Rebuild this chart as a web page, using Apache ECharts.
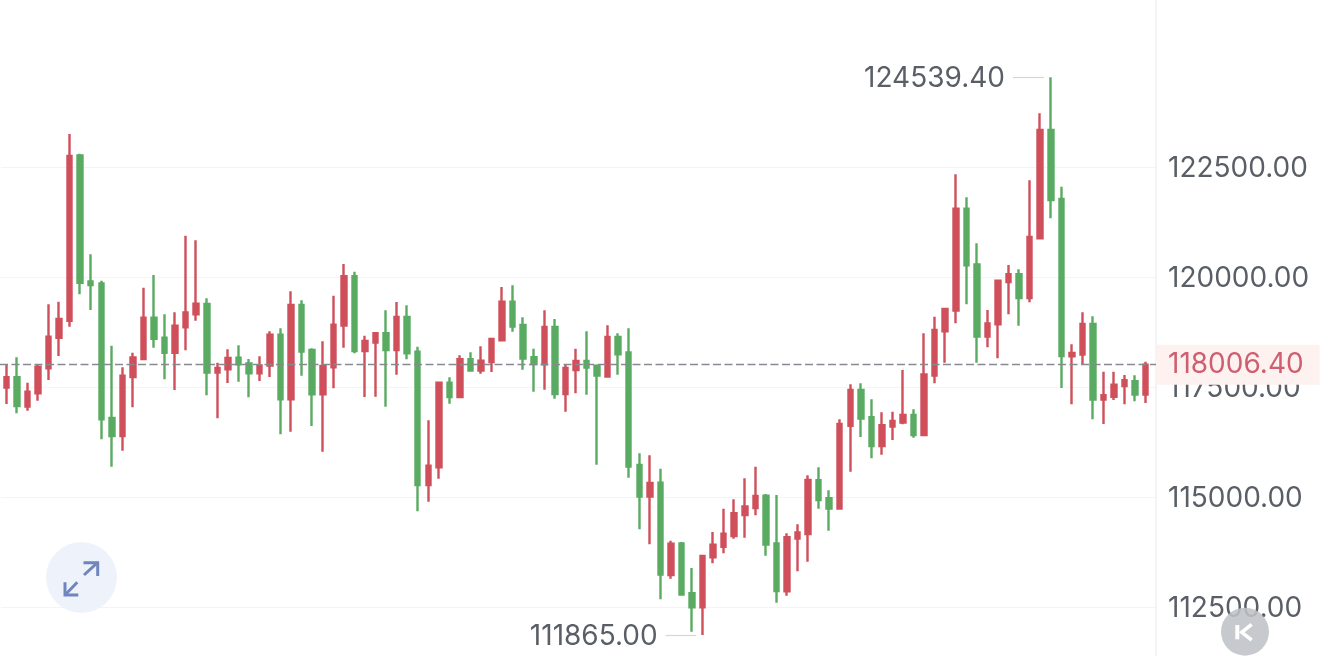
<!DOCTYPE html>
<html><head><meta charset="utf-8">
<style>html,body{margin:0;padding:0;background:#fff}#c{width:1320px;height:656px}</style>
<script src="https://cdn.jsdelivr.net/npm/echarts@6/dist/echarts.min.js"></script>
</head><body><div id="c"></div>
<script>
const opens=[117485,117720,117053,117356,117924,118621,119007,122765,119901,119856,116795,116386,117727,118136,119076,118621,118280,118856,119151,119386,117826,117901,118166,118038,117810,117985,118689,117219,
119364,118341,117334,117947,118894,120016,118319,118508,118720,118341,119091,118303,115273,115675,117599,117273,118129,117872,118069,118561,119440,118909,118175,118016,118864,117341,117887,118091,117970,117735,118637,118288,
115728,115008,115326,113228,113947,112811,112493,113629,113871,114114,114591,114750,115031,113947,112856,114053,114159,115379,114970,114735,116621,117432,116811,116159,116599,116690,116864,116409,
117758,118765,119235,121553,120288,118644,118924,119887,120061,119523,120879,123341,121773,118197,118235,118932,117212,117280,117523,117629,117326];
const closes=[117720,117068,117394,117962,118644,119045,122750,119871,119818,116765,116386,117757,118174,119076,118598,118280,118894,119197,119394,117826,117932,118159,118015,117810,117992,118689,117219,119363,
118303,117334,117978,118917,120016,118319,118546,118720,118341,119091,118266,115273,115712,117599,117273,118129,117872,118099,118591,119440,118872,118144,118023,118864,117341,117932,118091,117940,117758,118637,118243,115690,
115008,115318,113235,113940,112781,112493,113659,113917,114167,114629,114788,115023,113917,112864,114084,114197,115387,114932,114735,116659,117432,116781,116159,116629,116728,116864,116409,117788,
118796,119273,121553,120265,118644,118947,119917,120061,119523,120909,123341,121750,118205,118273,118932,117212,117311,117553,117652,117326,118006.4];
const lows=[117114,116901,116962,117189,117659,118204,118871,119606,119250,116310,115689,116053,117038,118129,118394,117674,117432,118333,119007,117310,116788,117591,117621,117265,117636,117727,116424,116485,
117758,116614,116031,117470,118394,118266,117273,117281,117053,117781,118129,114675,114894,115417,117122,117273,117856,117803,117841,118561,118758,117894,117394,117440,117235,116940,117356,117326,115735,117728,117781,115440,
114265,113924,112674,113144,112765,111940,111865,113493,113720,114053,114076,114584,113667,112599,112758,113311,113531,114735,114235,114735,115576,116364,115879,115962,116296,116652,116349,116409,
117583,118053,118947,119379,118053,118402,118152,119152,118894,119424,120879,121334,117477,117106,118000,116765,116659,117205,117106,117174,117137];
const highs=[118015,118174,117598,118015,119379,119439,123250,122800,120515,119916,118439,117947,118280,119757,120045,119151,119197,120939,120833,119515,118053,118356,118447,118136,118197,118765,118833,119674,
119470,118379,118538,119576,120296,120122,118667,118720,119243,119432,119356,118417,116743,117599,117720,118220,118288,118425,118591,119773,119811,119084,118372,119243,119046,118008,118372,118766,118016,118902,118720,118834,
115993,115947,115644,114008,113978,113387,113675,114205,114735,114947,115424,115690,115068,115046,114175,114379,115493,115675,115152,116765,117561,117584,117220,116925,116940,117887,116993,118720,
119099,119273,122334,121811,120765,119250,119917,120273,120174,122197,123720,124539.4,122053,118470,119197,119106,117849,117849,117773,117765,118076];
const categories=opens.map((_,i)=>String(i+1)).concat(['']);
const tickValues=[112500,115000,117500,120000,122500];
const lastPrice=118006.4;
const highLabel='124539.40', lowLabel='111865.00';
const highPrice=124539.4, lowPrice=111865;
const highIndex=highs.indexOf(highPrice), lowIndex=lows.indexOf(lowPrice);
const yMin=110000, yMax=127500, yStep=2500;

const FONT='Inter';
const RED='#cf4f5b', GREEN='#5aab62', TEXT='#5a5f67';
const candles=opens.map((o,i)=>[o,closes[i],lows[i],highs[i]]);
const chart=echarts.init(document.getElementById('c'),null,{renderer:'canvas'});
const extLabel={show:true,position:'start',distance:8,fontFamily:FONT,fontSize:28,color:TEXT,verticalAlign:'top',lineHeight:28,padding:[-12.5,0,0,0]};
const extLine={color:'#d4d6d9',width:1.2,type:'solid'};
chart.setOption({
  animation:false,
  backgroundColor:'#fff',
  grid:{outerBoundsMode:'none',left:1.025,top:-53,width:1160.5,height:770},
  xAxis:[
    {type:'category',data:categories,boundaryGap:true,show:false},
    {type:'value',min:-0.5,max:categories.length-0.5,show:false}
  ],
  yAxis:{type:'value',position:'right',min:yMin,max:yMax,interval:yStep,offset:-5.5,scale:false,
    axisLine:{show:true,onZero:false,lineStyle:{color:'#eef0f3',width:1.5}},
    axisTick:{show:false,customValues:tickValues},
    splitLine:{show:true,lineStyle:{color:'#f3f4f6',width:1}},
    axisLabel:{show:true,margin:12,fontFamily:FONT,fontSize:28,color:TEXT,customValues:tickValues,
      verticalAlign:'top',lineHeight:28,padding:[-12.5,0,0,0],
      formatter:v=>v.toFixed(2)}
  },
  series:[{
    type:'candlestick',data:candles,barWidth:5,clip:false,
    itemStyle:{color:RED,color0:GREEN,borderColor:RED,borderColor0:GREEN,borderWidth:2.4},
    markLine:{silent:true,symbol:'none',animation:false,clip:false,data:[
      [{yAxis:lastPrice,x:0,lineStyle:{color:'#868a90',width:1.3,type:[8,3.5]},
        label:{show:true,position:'end',distance:0,formatter:lastPrice.toFixed(2),fontFamily:FONT,fontSize:28,color:'#cf5f70',
          backgroundColor:'#fdf2f0',padding:[7,16,5,12],align:'left',verticalAlign:'middle',lineHeight:28}},
       {yAxis:lastPrice,x:1156}]
    ]}
  },{
    type:'line',xAxisIndex:1,data:[[highIndex,highPrice],[lowIndex,lowPrice]],showSymbol:false,symbolSize:0,
    lineStyle:{opacity:0,width:0},clip:false,silent:true,
    markLine:{silent:true,symbol:'none',animation:false,clip:false,label:{formatter:'{b}'},data:[
      [{xAxis:highIndex-3.58,yAxis:highPrice,lineStyle:extLine,label:extLabel,name:highLabel},
       {xAxis:highIndex-0.64,yAxis:highPrice}],
      [{xAxis:lowIndex-3.5,yAxis:lowPrice,lineStyle:extLine,label:extLabel,name:lowLabel},
       {xAxis:lowIndex-0.64,yAxis:lowPrice}]
    ]}
  }],
  graphic:[
    {type:'rect',z:1,shape:{x:1157,y:0,width:8,height:656},style:{fill:'#fff'}},
    {type:'circle',z:100,shape:{cx:81.5,cy:577.5,r:35.5},style:{fill:'#eef3fb'}},
    {type:'polyline',z:101,shape:{points:[[84,575],[97.5,562.7]]},style:{stroke:'#6f86bd',lineWidth:3,fill:null}},
    {type:'polyline',z:101,shape:{points:[[83.5,562.7],[97.7,562.7],[97.7,576]]},style:{stroke:'#6f86bd',lineWidth:3,fill:null}},
    {type:'polyline',z:101,shape:{points:[[77.3,582.3],[65,595]]},style:{stroke:'#6f86bd',lineWidth:3,fill:null}},
    {type:'polyline',z:101,shape:{points:[[65,582.3],[65,595],[78.3,595]]},style:{stroke:'#6f86bd',lineWidth:3,fill:null}},
    {type:'circle',z:100,shape:{cx:1245,cy:631.7,r:24},style:{fill:'rgba(190,193,198,0.88)'}},
    {type:'polyline',z:101,shape:{points:[[1237.3,625],[1237.3,639.3]]},style:{stroke:'#fff',lineWidth:4,fill:null}},
    {type:'polyline',z:101,shape:{points:[[1251.7,624.3],[1241.7,632.3],[1251.7,640]]},style:{stroke:'#fff',lineWidth:3.5,fill:null}}
  ]
});
</script></body></html>
